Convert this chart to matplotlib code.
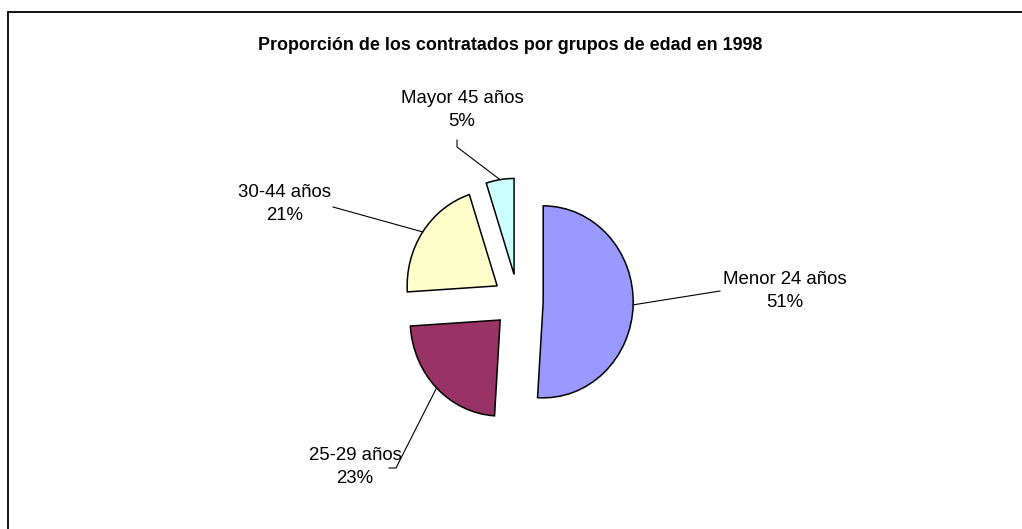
import numpy as np
import matplotlib
matplotlib.use("Agg")
import matplotlib.pyplot as plt
from matplotlib.patches import Rectangle

plt.rcParams['font.family'] = ['Liberation Sans', 'DejaVu Sans']

# data
labels = ['Menor 24 años', '25-29 años', '30-44 años', 'Mayor 45 años']
shares = [51, 23, 21, 5]
colors = ['#9999FF', '#993366', '#FFFFCC', '#CCFFFF']

W, H = 1022, 529
RX, RY = 90.0, 96.0  # pie radius in pixels (a bit taller than wide)


def px(x, y):
    # picture pixel -> data units of the full-figure axes
    return x / RX, (H - y) / RY


fig = plt.figure(figsize=(W / 100, H / 100), dpi=100)
ax = fig.add_axes([0, 0, 1, 1])

wedges, _ = ax.pie(shares, colors=colors, startangle=90, counterclock=False,
                   explode=[0.28] * len(shares), center=px(518, 301), radius=1,
                   wedgeprops=dict(edgecolor='black', linewidth=1.1))
ax.set_aspect('auto')
ax.set_xlim(0, W / RX)
ax.set_ylim(0, H / RY)
ax.axis('off')

# label block centres, leader ends and little hooks (picture pixels)
label_pos = [(785, 291), (355, 467), (285, 204), (462, 110)]
leader_end = [(720, 291), (396, 468), (333, 207), (457, 147)]
hook_end = [None, (389, 468), None, (457, 140)]

for w, lab, pct, lp, le, hk in zip(wedges, labels, shares, label_pos, leader_end, hook_end):
    mid = np.radians((w.theta1 + w.theta2) / 2)
    cx, cy = w.center
    start = (cx + np.cos(mid), cy + np.sin(mid))
    end = px(*le)
    xs, ys = [start[0], end[0]], [start[1], end[1]]
    if hk is not None:
        h = px(*hk)
        xs.append(h[0])
        ys.append(h[1])
    ax.plot(xs, ys, color='black', lw=0.8)
    tx, ty = px(*lp)
    ax.text(tx, ty, '{}\n{}%'.format(lab, pct), ha='center', va='center',
            fontsize=13.4, linespacing=1.5, color='black')

fig.text(510 / W, 1 - 45 / H, 'Proporción de los contratados por grupos de edad en 1998',
         ha='center', va='center', fontsize=12.9, fontweight='bold')

# chart area border (runs off the right and bottom edge)
fig.add_artist(Rectangle((8 / W, -0.1), 1.2, 1 - 12 / H + 0.1, transform=fig.transFigure,
                         fill=False, edgecolor='black', lw=1.3))

fig.savefig('out.png', dpi=100)
